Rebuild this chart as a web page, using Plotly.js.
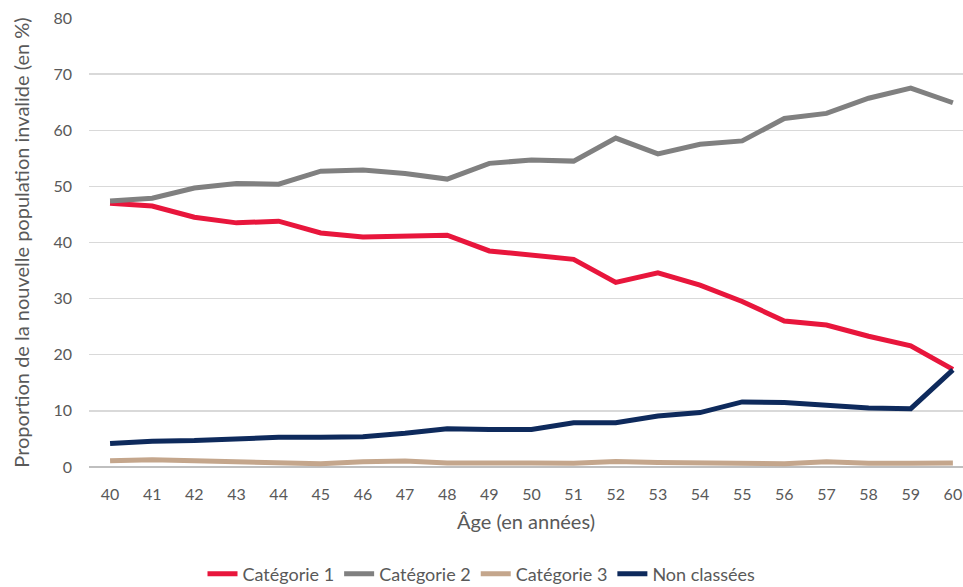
<!DOCTYPE html>
<html>
<head>
<meta charset="utf-8">
<script src="https://cdn.plot.ly/plotly-3.0.1.min.js"></script>
<style>html,body{margin:0;padding:0;background:#fff;overflow:hidden}#chart{width:963px;height:587px}</style>
</head>
<body>
<div id="chart"></div>
<script>
const ages = [40,41,42,43,44,45,46,47,48,49,50,51,52,53,54,55,56,57,58,59,60];
const cat1 = [47.0,46.5,44.5,43.5,43.8,41.7,41.0,41.1,41.3,38.5,37.8,37.0,32.9,34.6,32.4,29.5,26.0,25.3,23.3,21.6,17.4];
const cat2 = [47.4,47.9,49.7,50.5,50.4,52.7,52.9,52.3,51.3,54.1,54.7,54.5,58.6,55.8,57.5,58.1,62.1,63.0,65.7,67.5,64.9];
const cat3 = [1.1,1.3,1.1,0.95,0.65,0.6,0.95,1.05,0.7,0.8,0.7,0.65,1.0,0.8,0.7,0.65,0.6,0.95,0.65,0.65,0.7];
const nonClassees = [4.2,4.6,4.7,5.0,5.3,5.3,5.4,6.0,6.8,6.7,6.7,7.9,7.9,9.1,9.7,11.6,11.5,11.0,10.5,10.4,17.3];

const names = ['Catégorie 1','Catégorie 2','Catégorie 3','Non classées'];
const colors = ['#E8163C','#808080','#C4A68C','#0E2A5C'];
const series = [cat1, cat2, cat3, nonClassees];

const font = 'Lato, "Open Sans", "Liberation Sans", sans-serif';
const traces = series.map((ys, i) => ({
  x: ages, y: ys, name: names[i], type: 'scatter', mode: 'lines',
  line: {color: colors[i], width: 5, shape: 'linear'},
  hoverinfo: 'x+y'
}));

const layout = {
  width: 963, height: 587,
  margin: {l: 89, r: 0, t: 18, b: 120},
  paper_bgcolor: '#fff', plot_bgcolor: '#fff',
  font: {family: font, size: 17, color: '#595959'},
  showlegend: true,
  legend: {orientation: 'h', x: 0.5, xanchor: 'center', xref: 'container',
           y: 1 - 574/587, yanchor: 'middle', yref: 'container',
           font: {size: 18, color: '#595959'}, itemwidth: 30, tracegroupgap: 0},
  xaxis: {
    range: [39.5, 60.24], tickmode: 'array', tickvals: ages, ticktext: ages.map(String),
    showgrid: false, zeroline: false, showline: false, ticks: '',
    ticklabelstandoff: 16, tickfont: {size: 16, color: '#595959'},
    title: {text: 'Âge (en années)', standoff: 12, font: {size: 20, color: '#595959'}}
  },
  yaxis: {
    range: [0, 80], dtick: 10, showgrid: true, gridcolor: '#D9D9D9', gridwidth: 1.3,
    zeroline: true, zerolinecolor: '#BFBFBF', zerolinewidth: 1.5,
    showline: false, ticks: '', ticklabelstandoff: 16,
    tickfont: {size: 16, color: '#595959'},
    title: {text: 'Proportion de la nouvelle population invalide (en %)', standoff: 18, font: {size: 20, color: '#595959'}}
  }
};

Plotly.newPlot('chart', traces, layout, {displayModeBar: false, staticPlot: true});
</script>
</body>
</html>
